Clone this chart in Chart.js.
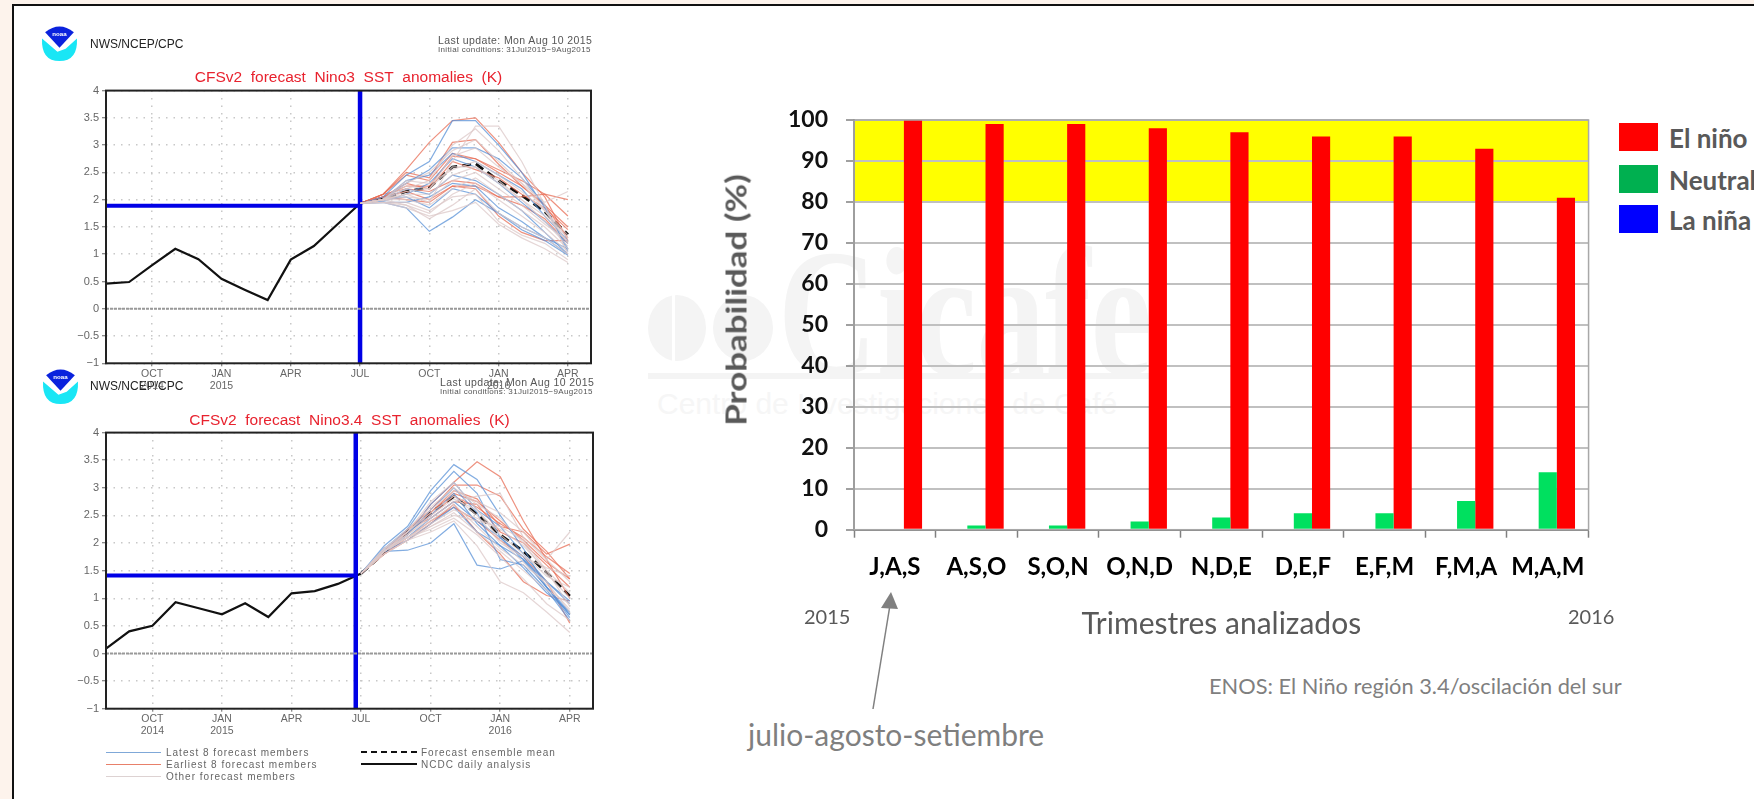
<!DOCTYPE html>
<html lang="es">
<head>
<meta charset="utf-8">
<title>Pronóstico ENOS</title>
<script src="https://cdn.jsdelivr.net/npm/chart.js@4"></script>
<style>
html, body { margin: 0; padding: 0; }
body { width: 1754px; height: 799px; overflow: hidden; background: #fdf3ec; position: relative; }
#leftPanel { position: absolute; left: 12px; top: 4px; width: 600px; height: 795px; background: #fff; border-left: 2px solid #111; border-top: 2px solid #111; box-sizing: border-box; }
#rightPanel { position: absolute; left: 612px; top: 4px; width: 1142px; height: 795px; background: #fff; border-top: 2px solid #111; box-sizing: border-box; }
canvas { position: absolute; }
.soft { filter: blur(0.4px); }
.t { position: absolute; white-space: nowrap; line-height: 1; }
.nws { font: 12px "Liberation Sans"; color: #222; left: 90px; }
.upd { font: 10.5px "Liberation Sans"; letter-spacing: .4px; color: #555; }
.ini { font: 8px "Liberation Sans"; letter-spacing: .35px; color: #555; }
.lg { font: 10px "Liberation Sans"; letter-spacing: 1px; color: #666; }
.ln { position: absolute; height: 0; }
.wm { position: absolute; white-space: nowrap; line-height: 1; color: #f4f4f4; }
.key { position: absolute; left: 1619px; width: 39px; height: 28px; }
.keyt { font: bold 26px Lato; color: #595959; left: 1669px; }
.note { font-family: Lato; color: #7f7f7f; }
</style>
</head>
<body>
<div id="leftPanel"></div>
<div id="rightPanel"></div>

<!-- marca de agua -->
<svg style="position:absolute;left:640px;top:285px" width="140" height="85">
  <ellipse cx="37" cy="43" rx="29" ry="33" fill="#f4f4f4"/>
  <ellipse cx="103" cy="43" rx="30" ry="33" fill="#f4f4f4"/>
  <rect x="32" y="5" width="3" height="76" fill="#fff"/>
</svg>
<div class="wm" style="left:778px;top:208px;font:bold 182px 'Liberation Serif';transform:scaleX(.755);transform-origin:left top">Cicafe</div>
<div class="wm" style="left:648px;top:373px;width:502px;height:6px;background:#f4f4f4"></div>
<div class="wm" style="left:657px;top:387px;font:30px 'Liberation Sans';color:#f6f6f6">Centro de Investigaciones de Café</div>

<!-- encabezados NOAA -->
<svg class="soft" style="position:absolute;left:41px;top:24px" width="37" height="37" viewBox="0 0 36 36">
  <path d="M1 14 L16 27 L24 24 L35 14 Q36 36 18 36 Q0 36 1 14 Z" fill="#19e6f5"/>
  <path d="M4 8 Q18 -3 32 8 L18 23 Z" fill="#0a22dd"/>
  <text x="18" y="12" font-size="6" font-family="Liberation Sans" font-weight="bold" fill="#fff" text-anchor="middle">noaa</text>
</svg>
<div class="t nws soft" style="top:37px">NWS/NCEP/CPC</div>
<div class="t upd soft" style="left:438px;top:34px">Last update: Mon Aug 10 2015</div>
<div class="t ini soft" style="left:438px;top:45px">Initial conditions: 31Jul2015−9Aug2015</div>

<svg class="soft" style="position:absolute;left:42px;top:367px" width="37" height="37" viewBox="0 0 36 36">
  <path d="M1 14 L16 27 L24 24 L35 14 Q36 36 18 36 Q0 36 1 14 Z" fill="#19e6f5"/>
  <path d="M4 8 Q18 -3 32 8 L18 23 Z" fill="#0a22dd"/>
  <text x="18" y="12" font-size="6" font-family="Liberation Sans" font-weight="bold" fill="#fff" text-anchor="middle">noaa</text>
</svg>
<div class="t nws soft" style="top:379px">NWS/NCEP/CPC</div>
<div class="t upd soft" style="left:440px;top:376px">Last update: Mon Aug 10 2015</div>
<div class="t ini soft" style="left:440px;top:387px">Initial conditions: 31Jul2015−9Aug2015</div>

<canvas id="nino3Chart" class="soft" width="577" height="340" style="left:60px;top:60px"></canvas>
<canvas id="nino34Chart" class="soft" width="579" height="343" style="left:60px;top:402px"></canvas>
<canvas id="ensoChart" width="900" height="550" style="left:700px;top:100px"></canvas>

<!-- leyenda de los paneles CFSv2 -->
<div class="ln" style="left:106px;top:752px;width:55px;border-top:1px solid #7fa8d8"></div>
<div class="t lg soft" style="left:166px;top:747px">Latest 8 forecast members</div>
<div class="ln" style="left:106px;top:764px;width:55px;border-top:1px solid #e8806a"></div>
<div class="t lg soft" style="left:166px;top:759px">Earliest 8 forecast members</div>
<div class="ln" style="left:106px;top:776px;width:55px;border-top:1px solid #ddd2d2"></div>
<div class="t lg soft" style="left:166px;top:771px">Other forecast members</div>
<div class="ln" style="left:361px;top:751px;width:56px;border-top:2px dashed #111"></div>
<div class="t lg soft" style="left:421px;top:747px">Forecast ensemble mean</div>
<div class="ln" style="left:361px;top:763px;width:56px;border-top:2px solid #111"></div>
<div class="t lg soft" style="left:421px;top:759px">NCDC daily analysis</div>

<!-- leyenda y notas del grafico ENOS -->
<div class="key" style="top:123px;background:#ff0000"></div>
<div class="t keyt" style="top:122px">El niño</div>
<div class="key" style="top:165px;background:#00b050"></div>
<div class="t keyt" style="top:164px">Neutral</div>
<div class="key" style="top:205px;background:#0000ff"></div>
<div class="t keyt" style="top:204px">La niña</div>

<div class="t" style="left:735px;top:300px;font:bold 29px Lato;color:#595959;transform:translate(-50%,-50%) rotate(-90deg) scaleX(1.205)">Probabilidad (%)</div>
<div class="t note" style="left:804px;top:606px;font-size:20px;color:#595959">2015</div>
<div class="t note" style="left:1568px;top:606px;font-size:20px;color:#595959">2016</div>
<div class="t note" style="left:1209px;top:675px;font-size:21.8px">ENOS: El Niño región 3.4/oscilación del sur</div>
<div class="t note" style="left:748px;top:719px;font-size:30px">julio-agosto-setiembre</div>
<svg style="position:absolute;left:860px;top:585px" width="50" height="130">
  <line x1="13" y1="124" x2="30" y2="20" stroke="#808080" stroke-width="1.5"/>
  <polygon points="31,7 21,23 38,24" fill="#808080"/>
</svg>

<script>
// Months counted from AUG 2014 = 0
const obsMonths = [0, 1, 2, 3, 4, 5, 6, 7, 8, 9, 10, 11];
const fcstMonths = [11, 12, 13, 14, 15, 16, 17, 18, 19, 20];
const tickMonths = [2, 5, 8, 11, 14, 17, 20];
const tickLabels = [['OCT', '2014'], ['JAN', '2015'], 'APR', 'JUL', 'OCT', ['JAN', '2016'], 'APR'];
const anomalyMin = -1;
const anomalyMax = 4;
const zeroLine = [0, 0];
const zeroMonths = [0, 21];
const vertY = [-1, 4];

// Nino3
const nino3Obs = [0.46, 0.49, 0.8, 1.1, 0.91, 0.55, 0.35, 0.16, 0.9, 1.15, 1.54, 1.93];
const nino3Mean = [1.93, 2.03, 2.15, 2.22, 2.6, 2.66, 2.35, 2.08, 1.78, 1.36];
const nino3Latest = [
    [1.93, 1.95, 1.85, 1.42, 1.68, 2.0, 1.75, 1.45, 1.25, 0.98],
    [1.93, 2.05, 2.45, 2.7, 3.45, 3.45, 3.0, 2.5, 1.85, 1.1],
    [1.93, 2.0, 2.3, 2.55, 2.95, 2.95, 2.75, 2.4, 1.9, 1.05],
    [1.93, 2.0, 2.05, 1.85, 2.2, 2.1, 1.75, 1.5, 1.3, 1.0],
    [1.93, 2.0, 2.2, 2.1, 2.45, 2.35, 2.1, 1.8, 1.4, 1.0],
    [1.93, 1.97, 2.1, 2.3, 2.75, 2.6, 2.3, 1.95, 1.6, 1.2],
    [1.93, 2.0, 2.35, 2.45, 2.85, 2.7, 2.45, 2.2, 1.7, 1.25],
    [1.93, 1.95, 1.95, 2.05, 2.3, 2.25, 1.85, 1.6, 1.3, 1.1]
];
const nino3Earliest = [
    [1.93, 2.1, 2.55, 3.05, 3.45, 3.5, 3.05, 2.5, 2.05, 1.25],
    [1.93, 2.1, 2.45, 2.35, 2.85, 2.75, 2.55, 2.35, 2.1, 1.7],
    [1.93, 2.1, 2.5, 2.4, 3.05, 3.1, 2.65, 2.25, 1.9, 1.3],
    [1.93, 2.05, 2.15, 2.0, 2.25, 2.25, 2.05, 2.05, 2.1, 2.0],
    [1.93, 2.05, 2.0, 1.95, 2.25, 2.2, 1.7, 1.4, 1.25, 1.25],
    [1.93, 2.05, 2.25, 2.25, 2.8, 2.75, 2.5, 2.25, 1.9, 1.5],
    [1.93, 2.05, 2.3, 2.2, 2.7, 2.55, 2.4, 2.1, 1.85, 1.45],
    [1.93, 2.1, 2.2, 2.15, 2.35, 2.3, 2.05, 1.9, 1.65, 1.2]
];
const nino3Other = [
    [1.93, 2.0, 2.1, 1.95, 2.7, 3.35, 3.35, 2.7, 1.9, 1.0],
    [1.93, 2.0, 1.9, 1.65, 1.9, 2.2, 1.75, 1.5, 1.3, 1.0],
    [1.93, 1.95, 1.85, 1.7, 1.8, 1.95, 1.55, 1.3, 1.1, 0.85],
    [1.93, 2.0, 2.2, 2.35, 3.0, 3.3, 2.9, 2.4, 1.8, 1.2],
    [1.93, 2.0, 2.05, 2.0, 2.35, 2.5, 2.2, 1.9, 1.55, 1.25],
    [1.93, 2.0, 2.3, 2.5, 2.9, 3.1, 2.7, 2.3, 1.95, 2.15],
    [1.93, 1.95, 1.95, 1.8, 2.05, 2.1, 1.6, 1.35, 1.2, 0.9],
    [1.93, 2.0, 2.15, 2.2, 2.6, 2.6, 2.35, 2.0, 1.6, 1.15],
    [1.93, 2.0, 2.25, 2.2, 2.8, 2.95, 2.6, 2.3, 1.8, 1.3],
    [1.93, 2.0, 2.0, 1.9, 2.2, 2.4, 2.1, 1.8, 1.5, 1.1],
    [1.93, 2.0, 2.35, 2.3, 2.55, 2.7, 2.45, 2.15, 1.8, 1.35],
    [1.93, 1.95, 1.9, 1.75, 2.1, 2.3, 2.0, 1.7, 1.4, 1.05],
    [1.93, 2.0, 2.1, 2.1, 2.45, 2.6, 2.3, 2.0, 1.7, 1.3]
];
const nino3VertX = [11, 11];
const nino3HorizX = [0, 11];
const nino3HorizY = [1.89, 1.89];

// Nino3.4
const nino34Obs = [0.09, 0.4, 0.5, 0.93, 0.82, 0.71, 0.91, 0.66, 1.09, 1.13, 1.26, 1.45];
const nino34Mean = [1.45, 1.82, 2.2, 2.55, 2.84, 2.52, 2.15, 1.85, 1.47, 1.04];
const nino34Latest = [
    [1.45, 1.85, 1.87, 2.0, 2.35, 1.6, 1.53, 1.68, 1.2, 0.65],
    [1.45, 1.95, 2.3, 2.95, 3.42, 3.15, 2.5, 1.9, 1.2, 0.7],
    [1.45, 1.9, 2.25, 2.85, 3.3, 2.9, 2.1, 1.7, 1.2, 0.75],
    [1.45, 1.85, 2.15, 2.6, 3.0, 2.55, 1.7, 1.6, 1.15, 0.6],
    [1.45, 1.9, 2.1, 2.45, 2.75, 2.4, 2.1, 1.75, 1.2, 0.7],
    [1.45, 1.85, 2.15, 2.7, 3.1, 2.6, 2.3, 1.8, 1.3, 0.9],
    [1.45, 1.9, 2.2, 2.5, 2.9, 2.35, 1.95, 1.55, 1.1, 0.75],
    [1.45, 1.85, 2.05, 2.35, 2.65, 2.2, 1.95, 1.7, 1.3, 0.95]
];
const nino34Earliest = [
    [1.45, 1.85, 2.15, 2.7, 3.1, 3.47, 3.2, 2.4, 1.7, 1.0],
    [1.45, 1.85, 2.25, 2.6, 3.05, 3.05, 2.85, 2.25, 1.85, 1.35],
    [1.45, 1.85, 2.2, 2.55, 2.95, 2.8, 2.3, 2.2, 1.8, 1.98],
    [1.45, 1.8, 2.05, 2.35, 2.7, 2.2, 1.8, 1.3, 1.05, 0.95],
    [1.45, 1.85, 2.2, 2.5, 2.85, 2.65, 2.35, 2.1, 1.75, 1.45],
    [1.45, 1.85, 2.25, 2.45, 2.75, 2.7, 2.2, 2.0, 1.6, 1.2],
    [1.45, 1.8, 2.1, 2.4, 2.65, 2.4, 2.05, 1.75, 1.3, 0.55],
    [1.45, 1.85, 2.2, 2.55, 2.9, 2.75, 2.4, 2.05, 1.65, 1.35]
];
const nino34Other = [
    [1.45, 1.9, 2.1, 2.3, 2.5, 2.4, 2.3, 2.05, 1.5, 0.85],
    [1.45, 1.85, 2.15, 2.45, 2.75, 2.85, 2.9, 2.1, 1.7, 2.2],
    [1.45, 1.8, 2.05, 2.2, 2.4, 1.95, 1.3, 1.1, 0.75, 0.38],
    [1.45, 1.85, 2.2, 2.75, 3.1, 2.6, 2.05, 1.65, 1.25, 0.8],
    [1.45, 1.85, 2.1, 2.35, 2.6, 2.45, 2.25, 1.95, 1.5, 1.1],
    [1.45, 1.8, 2.05, 2.3, 2.55, 2.2, 1.85, 1.5, 1.15, 0.9],
    [1.45, 1.9, 2.25, 2.65, 3.0, 2.7, 2.45, 2.0, 1.45, 1.0],
    [1.45, 1.85, 2.15, 2.5, 2.8, 2.6, 2.15, 1.8, 1.4, 1.2],
    [1.45, 1.85, 2.1, 2.4, 2.7, 2.3, 1.9, 1.6, 1.3, 0.75],
    [1.45, 1.9, 2.2, 2.6, 2.95, 2.75, 2.55, 2.2, 1.7, 1.3],
    [1.45, 1.85, 2.1, 2.25, 2.45, 2.15, 1.75, 1.35, 0.9, 0.6],
    [1.45, 1.85, 2.2, 2.55, 2.85, 2.5, 2.0, 1.75, 1.55, 1.4]
];
const nino34VertX = [10.77, 10.77];
const nino34HorizX = [0, 10.77];
const nino34HorizY = [1.41, 1.41];

// ENOS probabilities
const trimestres = ['J,A,S', 'A,S,O', 'S,O,N', 'O,N,D', 'N,D,E', 'D,E,F', 'E,F,M', 'F,M,A', 'M,A,M'];
const laNina = [0, 0, 0, 0, 0, 0, 0, 0, 0];
const neutral = [0, 1, 1, 2, 3, 4, 4, 7, 14];
const elNino = [100, 99, 99, 98, 97, 96, 96, 93, 81];
const bandFrom = 80;
const bandTo = 100;

const pts = (xs, ys) => ys.map((y, i) => ({ x: xs[i], y }));

function memberLines(list, color, width) {
    return list.map(m => ({
        data: pts(fcstMonths, m),
        borderColor: color,
        borderWidth: width,
        pointRadius: 0
    }));
}

const framePlugin = {
    id: 'frame',
    afterDatasetsDraw(chart, args, opts) {
        const { ctx, chartArea: a } = chart;
        ctx.save();
        ctx.strokeStyle = opts.color;
        ctx.lineWidth = opts.width;
        ctx.strokeRect(a.left, a.top, a.right - a.left, a.bottom - a.top);
        ctx.restore();
    }
};

function cfsChart(id, title, titlePad, padRight, xHeight, s) {
    new Chart(document.getElementById(id), {
        type: 'line',
        plugins: [framePlugin],
        data: {
            datasets: [
                { data: pts(zeroMonths, zeroLine), borderColor: '#999', borderWidth: 2, borderDash: [3, 1], pointRadius: 0 },
                ...memberLines(s.other, 'rgba(220,200,200,0.75)', 1.2),
                ...memberLines(s.latest, 'rgba(90,145,215,0.75)', 1.2),
                ...memberLines(s.earliest, 'rgba(232,110,85,0.75)', 1.2),
                { data: pts(s.horizX, s.horizY), borderColor: '#0000e6', borderWidth: 4, pointRadius: 0 },
                { data: pts(s.vertX, vertY), borderColor: '#0000e6', borderWidth: 4.5, pointRadius: 0, clip: false },
                { data: pts(obsMonths, s.obs), borderColor: '#111', borderWidth: 2.2, pointRadius: 0 },
                { data: pts(fcstMonths, s.mean), borderColor: '#111', borderWidth: 2.8, borderDash: [9, 5], pointRadius: 0 }
            ]
        },
        options: {
            responsive: false,
            animation: false,
            layout: { padding: { right: padRight } },
            plugins: {
                legend: { display: false },
                tooltip: { enabled: false },
                title: {
                    display: true,
                    fullSize: false,
                    text: title,
                    color: '#e8222e',
                    font: { family: 'Liberation Sans', size: 15.5, weight: 'normal' },
                    padding: titlePad
                },
                frame: { color: '#222', width: 2 }
            },
            scales: {
                x: {
                    type: 'linear',
                    min: 0,
                    max: 21,
                    afterBuildTicks: a => { a.ticks = tickMonths.map(value => ({ value })); },
                    afterFit: a => { a.height = xHeight; },
                    grid: { color: '#c8c8c8', lineWidth: 1.5, tickLength: 3, tickColor: '#666', tickWidth: 1 },
                    border: { display: false, dash: [1.5, 6] },
                    ticks: {
                        autoSkip: false,
                        maxRotation: 0,
                        padding: 2,
                        color: '#666',
                        font: { family: 'Liberation Sans', size: 10.5, lineHeight: 1.1 },
                        callback: v => tickLabels[tickMonths.indexOf(v)]
                    }
                },
                y: {
                    min: anomalyMin,
                    max: anomalyMax,
                    afterFit: a => { a.width = 46; },
                    grid: { color: '#c8c8c8', lineWidth: 1.5, tickLength: 4, tickColor: '#666', tickWidth: 1 },
                    border: { display: false, dash: [1.5, 6] },
                    ticks: {
                        stepSize: 0.5,
                        padding: 3,
                        color: '#666',
                        font: { family: 'Liberation Sans', size: 11 },
                        callback: v => String(v).replace('-', '−')
                    }
                }
            }
        }
    });
}

cfsChart('nino3Chart', 'CFSv2  forecast  Nino3  SST  anomalies  (K)', { top: 8, bottom: 4 }, 46, 36.7, {
    obs: nino3Obs, mean: nino3Mean, latest: nino3Latest, earliest: nino3Earliest, other: nino3Other,
    vertX: nino3VertX, horizX: nino3HorizX, horizY: nino3HorizY
});
cfsChart('nino34Chart', 'CFSv2  forecast  Nino3.4  SST  anomalies  (K)', { top: 9, bottom: 3 }, 46, 36.3, {
    obs: nino34Obs, mean: nino34Mean, latest: nino34Latest, earliest: nino34Earliest, other: nino34Other,
    vertX: nino34VertX, horizX: nino34HorizX, horizY: nino34HorizY
});

// Yellow band 80-100 under the grid lines
const bandPlugin = {
    id: 'band',
    beforeDraw(chart) {
        const { ctx, chartArea: a, scales: { y } } = chart;
        const top = y.getPixelForValue(bandTo);
        ctx.save();
        ctx.fillStyle = '#ffff00';
        ctx.fillRect(a.left, top, a.right - a.left, y.getPixelForValue(bandFrom) - top);
        ctx.restore();
    }
};

new Chart(document.getElementById('ensoChart'), {
    type: 'bar',
    plugins: [bandPlugin, framePlugin],
    data: {
        labels: trimestres,
        datasets: [
            { label: 'La niña', data: laNina, backgroundColor: '#0000ff' },
            { label: 'Neutral', data: neutral, backgroundColor: '#00e05f' },
            { label: 'El niño', data: elNino, backgroundColor: '#ff0000' }
        ]
    },
    options: {
        responsive: false,
        animation: false,
        layout: { padding: { top: 20, right: 11 } },
        datasets: { bar: { categoryPercentage: 0.668, barPercentage: 1 } },
        plugins: {
            legend: { display: false },
            tooltip: { enabled: false },
            frame: { color: '#a8a8a8', width: 1.5 }
        },
        scales: {
            x: {
                afterFit: a => { a.height = 120.3; },
                grid: { drawOnChartArea: false, tickLength: 8, tickColor: '#808080', tickWidth: 1.5 },
                border: { color: '#808080', width: 2 },
                ticks: { autoSkip: false, maxRotation: 0, padding: 15, color: '#000', font: { family: 'Lato', size: 24, weight: 'bold' } },
                title: {
                    display: true,
                    text: 'Trimestres analizados',
                    color: '#595959',
                    font: { family: 'Lato', size: 30 },
                    padding: { bottom: 8 }
                }
            },
            y: {
                min: 0,
                max: 100,
                afterFit: a => { a.width = 154; a.paddingTop = 0; a.paddingBottom = 0; },
                grid: { color: '#c0c0c0', lineWidth: 2, tickLength: 8, tickColor: '#808080', tickWidth: 1.5 },
                border: { color: '#808080', width: 2 },
                ticks: { stepSize: 10, padding: 18, color: '#111', font: { family: 'Lato', size: 23, weight: 'bold' } }
            }
        }
    }
});
</script>
</body>
</html>
